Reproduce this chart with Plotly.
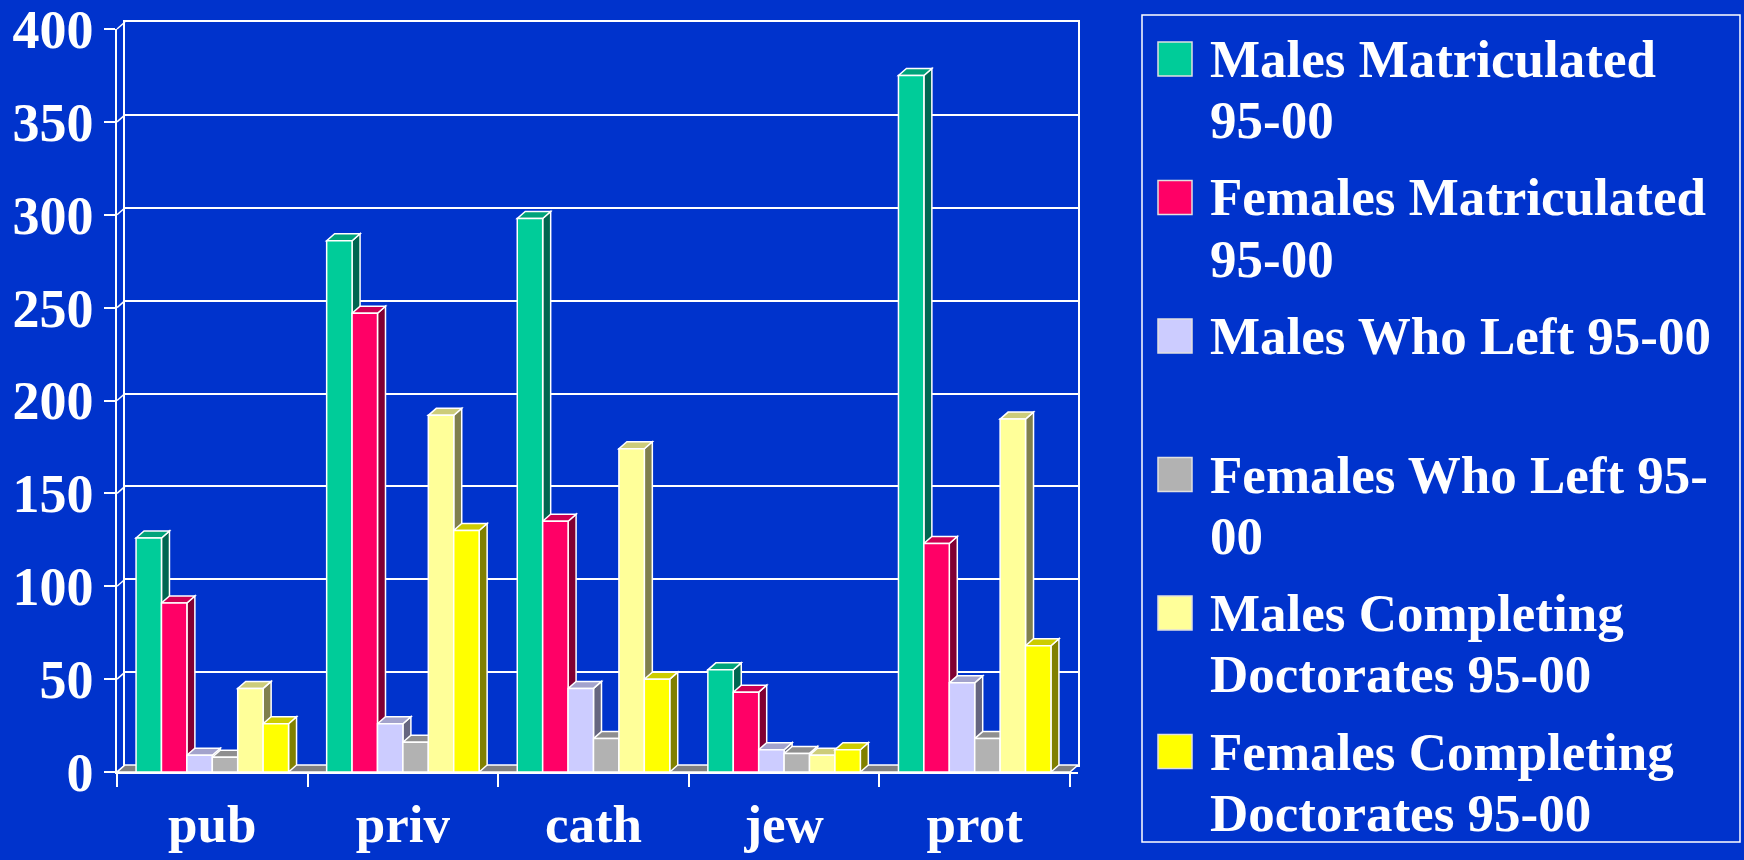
import plotly.graph_objects as go

# ---------------- data ----------------
categories = ["pub", "priv", "cath", "jew", "prot"]
series_names = [
    "Males Matriculated 95-00",
    "Females Matriculated 95-00",
    "Males Who Left 95-00",
    "Females Who Left 95-00",
    "Males Completing Doctorates 95-00",
    "Females Completing Doctorates 95-00",
]
legend_lines = [
    ["Males Matriculated", "95-00"],
    ["Females Matriculated", "95-00"],
    ["Males Who Left 95-00"],
    ["Females Who Left 95-", "00"],
    ["Males Completing", "Doctorates 95-00"],
    ["Females Completing", "Doctorates 95-00"],
]
males_matriculated = [126, 286, 298, 55, 375]
females_matriculated = [91, 247, 135, 43, 123]
males_left = [9, 26, 45, 12, 48]
females_left = [8, 16, 18, 10, 18]
males_doctorates = [45, 192, 174, 9, 190]
females_doctorates = [26, 130, 50, 12, 68]
y_ticks = [0, 50, 100, 150, 200, 250, 300, 350, 400]

series_values = [males_matriculated, females_matriculated, males_left,
                 females_left, males_doctorates, females_doctorates]

# ---------------- styles ----------------
front_colors = ["#00CC99", "#FF0066", "#CCCCFF", "#B2B2B2", "#FFFF99", "#FFFF00"]
side_colors = ["#006650", "#800033", "#666680", "#595959", "#80804D", "#808000"]
top_colors = ["#00A37A", "#CC0052", "#A3A3CC", "#8F8F8F", "#CCCC7A", "#CCCC00"]
BG = "#0033CC"
WHITE = "#FFFFFF"
FONT = "Liberation Serif, Times New Roman, serif"
LW = 1.5

W, H = 1744, 860
FL, FR_CAT, FB, FT = 117, 1070, 772, 29
DEPTH_X, DEPTH_Y = 8, 7
n_cat = len(categories)
px_per_cat = (FR_CAT - FL) / n_cat
px_per_unit = (FB - FT) / (y_ticks[-1] - y_ticks[0])
DX = DEPTH_X / px_per_cat
DY = DEPTH_Y / px_per_unit

BARGAP = 0.2
n_ser = len(series_values)
bar_w = (1 - BARGAP) / n_ser

fig = go.Figure()

# invisible trace so that the back-wall subplot is drawn
fig.add_trace(go.Scatter(x=[0.5], y=[y_ticks[0]], xaxis="x", yaxis="y", mode="markers",
                         marker=dict(opacity=0), hoverinfo="skip", showlegend=False))

for j, (name, vals) in enumerate(zip(series_names, series_values)):
    fig.add_trace(go.Bar(
        x=categories, y=vals, name=name,
        xaxis="x2", yaxis="y2",
        marker=dict(color=front_colors[j], line=dict(color=WHITE, width=LW)),
        showlegend=False,
    ))

shapes = []
shapes.append(dict(
    type="path", xref="x2", yref="y2", layer="below",
    path=f"M-0.5,0 L{n_cat-0.5},0 L{n_cat-0.5+DX},{DY} L{-0.5+DX},{DY} Z",
    fillcolor="#808080", line=dict(color=WHITE, width=LW)))
for i in range(n_cat):
    for j in range(n_ser):
        v = series_values[j][i]
        x0 = i - (1 - BARGAP) / 2 + j * bar_w
        x1 = x0 + bar_w
        shapes.append(dict(
            type="path", xref="x2", yref="y2", layer="below",
            path=f"M{x1},0 L{x1+DX},{DY} L{x1+DX},{v+DY} L{x1},{v} Z",
            fillcolor=side_colors[j], line=dict(color=WHITE, width=LW)))
        shapes.append(dict(
            type="path", xref="x2", yref="y2", layer="below",
            path=f"M{x0},{v} L{x1},{v} L{x1+DX},{v+DY} L{x0+DX},{v+DY} Z",
            fillcolor=top_colors[j], line=dict(color=WHITE, width=LW)))

for t in y_ticks:
    yf = FB - (t - y_ticks[0]) * px_per_unit
    yb = yf - DEPTH_Y
    shapes.append(dict(
        type="line", xref="paper", yref="paper", layer="below",
        x0=FL / W, x1=(FL + DEPTH_X) / W, y0=1 - yf / H, y1=1 - yb / H,
        line=dict(color=WHITE, width=LW)))

LEG_L, LEG_R, LEG_T, LEG_B = 1142, 1740, 15, 842
shapes.append(dict(type="rect", xref="paper", yref="paper", layer="above",
                   x0=LEG_L / W, x1=LEG_R / W, y0=1 - LEG_B / H, y1=1 - LEG_T / H,
                   line=dict(color=WHITE, width=LW), fillcolor="rgba(0,0,0,0)"))
annotations = []
first_c, entry_pitch, line_pitch = 59, 138.5, 61
sw_l, sw_r, sw_h = 1158, 1192, 34
text_x = 1208
for k, lines in enumerate(legend_lines):
    c = first_c + k * entry_pitch
    shapes.append(dict(type="rect", xref="paper", yref="paper", layer="above",
                       x0=sw_l / W, x1=sw_r / W,
                       y0=1 - (c + sw_h / 2) / H, y1=1 - (c - sw_h / 2) / H,
                       fillcolor=front_colors[k], line=dict(color="#E0E0E0", width=1.5)))
    for m, line in enumerate(lines):
        annotations.append(dict(
            xref="paper", yref="paper", x=text_x / W, y=1 - (c + m * line_pitch) / H,
            xanchor="left", yanchor="middle", showarrow=False, text=line,
            font=dict(family=FONT, size=53, color=WHITE, weight="bold")))

tickfont = dict(family=FONT, size=54, color=WHITE, weight="bold")
xtickfont = dict(family=FONT, size=53, color=WHITE, weight="bold")

fig.update_layout(
    width=W, height=H,
    margin=dict(l=0, r=0, t=0, b=0, pad=0, autoexpand=False),
    paper_bgcolor=BG, plot_bgcolor="rgba(0,0,0,0)",
    barmode="group", bargap=BARGAP, bargroupgap=0,
    shapes=shapes, annotations=annotations,
    xaxis=dict(domain=[(FL + DEPTH_X) / W, (FR_CAT + DEPTH_X) / W], range=[0, 1],
               anchor="y", showline=True, mirror=True, linecolor=WHITE, linewidth=LW,
               showgrid=False, zeroline=False, showticklabels=False, ticks="",
               automargin=False, fixedrange=True),
    yaxis=dict(domain=[(H - FB + DEPTH_Y) / H, (H - FT + DEPTH_Y) / H],
               range=[y_ticks[0], y_ticks[-1]], anchor="x",
               tickvals=y_ticks, showgrid=True, gridcolor=WHITE, gridwidth=LW,
               showline=True, mirror=True, linecolor=WHITE, linewidth=LW,
               zeroline=False, showticklabels=False, ticks="",
               automargin=False, fixedrange=True),
    xaxis2=dict(domain=[FL / W, (FR_CAT + DEPTH_X) / W], range=[-0.5, n_cat - 0.5 + DX],
                anchor="y2", type="category", showline=True, linecolor=WHITE, linewidth=LW,
                ticks="outside", ticklen=13, tickwidth=LW, tickcolor=WHITE,
                tickson="boundaries", tickfont=xtickfont, ticklabelstandoff=5,
                ticklabeloverflow="allow",
                showgrid=False, zeroline=False, automargin=False, fixedrange=True),
    yaxis2=dict(domain=[(H - FB) / H, (H - FT) / H], range=[y_ticks[0], y_ticks[-1]],
                anchor="x2", showline=True, linecolor=WHITE, linewidth=LW,
                ticks="outside", ticklen=11, tickwidth=LW, tickcolor=WHITE,
                tickvals=y_ticks, tickfont=tickfont, ticklabelstandoff=0,
                ticklabeloverflow="allow",
                showgrid=False, zeroline=False, automargin=False, fixedrange=True),
)

fig.write_html(
    "out.html",
    config={"displayModeBar": False},
    post_script="document.body.style.margin='0';document.body.style.overflow='hidden';"
                "document.body.style.background='" + BG + "';",
)
